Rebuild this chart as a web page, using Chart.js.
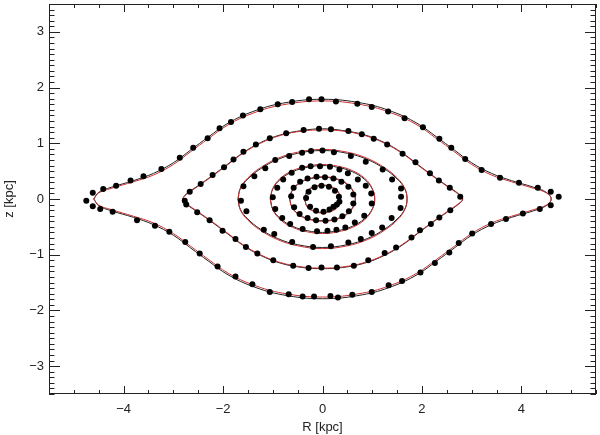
<!DOCTYPE html>
<html>
<head>
<meta charset="utf-8">
<script src="https://cdn.jsdelivr.net/npm/chart.js@4.4.1/dist/chart.umd.min.js"></script>
<style>
  html,body{margin:0;padding:0;background:#fff;}
  #wrap{width:600px;height:435px;}
</style>
</head>
<body>
<div id="wrap"><canvas id="orbits"></canvas></div>
<script>
'use strict';
// axis ticks
var xTickLabels=[-4,-2,0,2,4];
var yTickLabels=[-3,-2,-1,0,1,2,3];

// orbit 1 (outer eye)
var o1DotX=[-4.75,-4.62,-4.41,-4.15,-3.86,-3.60,-3.24,-2.87,-2.60,-2.31,-2.07,-1.84,-1.60,-1.25,-0.90,-0.61,-0.27,-0.02,0.27,0.70,0.99,1.32,1.65,2.02,2.35,2.59,2.87,3.20,3.57,3.95,4.33,4.59,4.75,4.59,4.37,4.03,3.69,3.39,3.01,2.74,2.55,2.26,1.97,1.60,1.33,0.99,0.60,0.31,0.16,-0.17,-0.40,-0.68,-1.06,-1.41,-1.75,-2.11,-2.47,-2.76,-3.08,-3.37,-3.73,-4.22,-4.47,-4.62];
var o1DotZ=[-0.03,0.11,0.18,0.24,0.33,0.41,0.54,0.74,0.92,1.09,1.27,1.38,1.50,1.61,1.70,1.74,1.79,1.79,1.75,1.71,1.65,1.57,1.45,1.29,1.08,0.92,0.72,0.52,0.38,0.29,0.20,0.13,0.04,-0.11,-0.18,-0.26,-0.36,-0.45,-0.62,-0.79,-0.96,-1.15,-1.32,-1.47,-1.55,-1.67,-1.72,-1.77,-1.74,-1.75,-1.75,-1.71,-1.67,-1.53,-1.39,-1.21,-0.98,-0.77,-0.59,-0.48,-0.38,-0.23,-0.18,-0.13];
var o1LineX=[-4.6,-4.5,-4.25,-3.8,-3.4,-3.0,-2.65,-2.3,-1.9,-1.4,-0.8,0,0.8,1.4,1.9,2.3,2.65,3.0,3.4,3.8,4.25,4.5,4.6,4.5,4.25,3.8,3.4,3.0,2.65,2.3,1.9,1.4,0.8,0,-0.8,-1.4,-1.9,-2.3,-2.65,-3.0,-3.4,-3.8,-4.25,-4.5,-4.6];
var o1BlackZ=[0,0.12,0.21,0.33,0.46,0.65,0.88,1.11,1.36,1.57,1.72,1.79,1.72,1.57,1.36,1.11,0.88,0.65,0.46,0.33,0.21,0.12,0,-0.12,-0.21,-0.33,-0.46,-0.65,-0.88,-1.11,-1.36,-1.57,-1.72,-1.79,-1.72,-1.57,-1.36,-1.11,-0.88,-0.65,-0.46,-0.33,-0.21,-0.12,0];
var o1RedZ=[0,0.11,0.19,0.31,0.43,0.62,0.85,1.08,1.33,1.54,1.69,1.76,1.69,1.54,1.33,1.08,0.85,0.62,0.43,0.31,0.19,0.11,0,-0.11,-0.19,-0.31,-0.43,-0.62,-0.85,-1.08,-1.33,-1.54,-1.69,-1.76,-1.69,-1.54,-1.33,-1.08,-0.85,-0.62,-0.43,-0.31,-0.19,-0.11,0];

// orbit 2
var o2DotX=[-2.77,-2.67,-2.45,-2.21,-1.98,-1.79,-1.59,-1.34,-1.06,-0.73,-0.38,-0.07,0.17,0.52,0.79,1.03,1.30,1.61,1.87,2.16,2.34,2.56,2.77,2.57,2.35,2.18,1.96,1.79,1.48,1.25,0.92,0.63,0.29,-0.02,-0.28,-0.59,-0.99,-1.31,-1.54,-1.75,-2.01,-2.27,-2.52,-2.74];
var o2DotZ=[-0.03,0.13,0.27,0.43,0.57,0.71,0.85,0.98,1.09,1.18,1.24,1.26,1.25,1.22,1.16,1.08,0.98,0.81,0.66,0.46,0.33,0.20,0.04,-0.20,-0.33,-0.45,-0.56,-0.69,-0.87,-0.97,-1.10,-1.20,-1.23,-1.23,-1.24,-1.20,-1.10,-0.98,-0.86,-0.72,-0.57,-0.38,-0.24,-0.10];
var o2LineX=[-2.82,-2.74,-2.5,-2.2,-1.9,-1.6,-1.25,-0.85,-0.4,0,0.4,0.85,1.25,1.6,1.9,2.2,2.5,2.74,2.82,2.74,2.5,2.2,1.9,1.6,1.25,0.85,0.4,0,-0.4,-0.85,-1.25,-1.6,-1.9,-2.2,-2.5,-2.74,-2.82];
var o2BlackZ=[0,0.09,0.24,0.43,0.63,0.83,1.01,1.15,1.23,1.26,1.23,1.15,1.01,0.83,0.63,0.43,0.24,0.09,0,-0.09,-0.24,-0.43,-0.63,-0.83,-1.01,-1.15,-1.23,-1.25,-1.23,-1.15,-1.01,-0.83,-0.63,-0.43,-0.24,-0.09,0];
var o2RedZ=[0,0.08,0.23,0.42,0.62,0.82,1.0,1.14,1.22,1.24,1.22,1.14,1.0,0.82,0.62,0.42,0.23,0.08,0,-0.08,-0.23,-0.42,-0.62,-0.82,-1.0,-1.14,-1.22,-1.24,-1.22,-1.14,-1.0,-0.82,-0.62,-0.42,-0.23,-0.08,0];

// orbit 3
var o3DotX=[-1.64,-1.59,-1.37,-1.15,-0.95,-0.67,-0.41,-0.23,0.0,0.23,0.57,0.87,1.21,1.40,1.58,1.58,1.57,1.39,1.20,0.99,0.77,0.52,0.17,-0.19,-0.61,-0.97,-1.18,-1.53];
var o3DotZ=[-0.03,0.23,0.41,0.55,0.70,0.77,0.83,0.86,0.87,0.84,0.77,0.67,0.53,0.35,0.19,0.04,-0.16,-0.34,-0.51,-0.61,-0.72,-0.78,-0.85,-0.86,-0.77,-0.63,-0.55,-0.22];
var o3LineX=[-1.7,-1.65,-1.5,-1.25,-0.9,-0.5,0,0.5,0.9,1.25,1.5,1.65,1.7,1.65,1.5,1.25,0.9,0.5,0,-0.5,-0.9,-1.25,-1.5,-1.65,-1.7];
var o3BlackZ=[0,0.19,0.36,0.54,0.71,0.82,0.87,0.82,0.71,0.54,0.36,0.19,0,-0.19,-0.36,-0.54,-0.71,-0.82,-0.87,-0.82,-0.71,-0.54,-0.36,-0.19,0];
var o3RedZ=[0,0.20,0.38,0.56,0.73,0.84,0.89,0.84,0.73,0.56,0.38,0.20,0,-0.20,-0.38,-0.56,-0.73,-0.84,-0.89,-0.84,-0.73,-0.56,-0.38,-0.20,0];

// orbit 4
var o4DotX=[-1.00,-0.91,-0.79,-0.62,-0.41,-0.24,-0.05,0.15,0.34,0.51,0.71,0.87,0.98,0.99,0.84,0.65,0.46,0.28,0.10,-0.11,-0.40,-0.65,-0.81,-0.95];
var o4DotZ=[0.03,0.20,0.35,0.47,0.56,0.59,0.59,0.58,0.53,0.46,0.35,0.24,0.10,-0.08,-0.30,-0.42,-0.51,-0.55,-0.57,-0.58,-0.54,-0.45,-0.34,-0.18];
var o4LineX=[-1.05,-1.0,-0.85,-0.6,-0.3,0,0.3,0.6,0.85,1.0,1.05,1.0,0.85,0.6,0.3,0,-0.3,-0.6,-0.85,-1.0,-1.05];
var o4BlackZ=[0,0.18,0.35,0.49,0.57,0.6,0.57,0.49,0.35,0.18,0,-0.18,-0.35,-0.49,-0.57,-0.6,-0.57,-0.49,-0.35,-0.18,0];
var o4RedZ=[0,0.19,0.37,0.51,0.59,0.62,0.59,0.51,0.37,0.19,0,-0.19,-0.37,-0.51,-0.59,-0.62,-0.59,-0.51,-0.37,-0.19,0];

// orbit 5
var o5DotX=[-0.63,-0.58,-0.45,-0.30,-0.12,0.05,0.22,0.38,0.52,0.62,0.62,0.53,0.40,0.24,0.06,-0.13,-0.30,-0.46,-0.57];
var o5DotZ=[0.05,0.20,0.31,0.37,0.40,0.39,0.37,0.31,0.22,0.08,-0.08,-0.22,-0.31,-0.37,-0.39,-0.38,-0.34,-0.27,-0.15];
var o5LineX=[-0.66,-0.62,-0.5,-0.3,0,0.3,0.5,0.62,0.66,0.62,0.5,0.3,0,-0.3,-0.5,-0.62,-0.66];
var o5BlackZ=[0,0.13,0.26,0.35,0.39,0.35,0.26,0.13,0,-0.13,-0.26,-0.35,-0.39,-0.35,-0.26,-0.13,0];
var o5RedZ=[0,0.14,0.27,0.36,0.40,0.36,0.27,0.14,0,-0.14,-0.27,-0.36,-0.40,-0.36,-0.27,-0.14,0];

// orbit 6 (innermost)
var o6DotX=[-0.33,-0.28,-0.16,-0.02,0.13,0.25,0.33,0.34,0.29,0.22,0.14,0.02,-0.13,-0.25];
var o6DotZ=[0.02,0.13,0.21,0.24,0.22,0.15,0.04,-0.05,-0.10,-0.14,-0.19,-0.23,-0.21,-0.14];
var o6LineX=[-0.36,-0.31,-0.18,0,0.18,0.31,0.36,0.31,0.18,0,-0.18,-0.31,-0.36];
var o6BlackZ=[0,0.13,0.21,0.24,0.21,0.13,0,-0.13,-0.21,-0.24,-0.21,-0.13,0];
var o6RedZ=[0,0.14,0.22,0.25,0.22,0.14,0,-0.14,-0.22,-0.25,-0.22,-0.14,0];

var pts=function(xs,zs){return xs.map(function(x,i){return {x:x,y:zs[i]};});};
var minus=function(v){return v<0?'\u2212'+Math.abs(v):String(v);};

var dots=[[o1DotX,o1DotZ],[o2DotX,o2DotZ],[o3DotX,o3DotZ],[o4DotX,o4DotZ],[o5DotX,o5DotZ],[o6DotX,o6DotZ]];
var lines=[[o1LineX,o1BlackZ,o1RedZ],[o2LineX,o2BlackZ,o2RedZ],[o3LineX,o3BlackZ,o3RedZ],[o4LineX,o4BlackZ,o4RedZ],[o5LineX,o5BlackZ,o5RedZ],[o6LineX,o6BlackZ,o6RedZ]];

var datasets=[];
dots.forEach(function(d){
  datasets.push({data:pts(d[0],d[1]),showLine:false,pointRadius:3,pointHoverRadius:3,pointBackgroundColor:'#000',pointBorderWidth:0});
});
lines.forEach(function(l){
  datasets.push({data:pts(l[0],l[2]),showLine:true,pointRadius:0,borderColor:'#c83030',borderWidth:1,tension:0.4,fill:false});
});
lines.forEach(function(l){
  datasets.push({data:pts(l[0],l[1]),showLine:true,pointRadius:0,borderColor:'#222',borderWidth:1,tension:0.4,fill:false});
});

// frame with inward ticks on all four sides
var frameTicks={
  id:'frameTicks',
  afterDraw:function(chart){
    var c=chart.ctx,a=chart.chartArea,xs=chart.scales.x,ys=chart.scales.y,v,p,len;
    c.save();
    c.strokeStyle='#222';c.lineWidth=1;
    c.strokeRect(a.left+0.5,a.top+0.5,a.right-a.left-1,a.bottom-a.top-1);
    c.beginPath();
    for(v=-5.5;v<=5.5001;v+=0.5){
      p=Math.round(xs.getPixelForValue(v))+0.5;
      len=(Math.abs(v%2)<1e-6)?8:4;
      c.moveTo(p,a.bottom);c.lineTo(p,a.bottom-len);
      c.moveTo(p,a.top);c.lineTo(p,a.top+len);
    }
    for(v=-35;v<=35;v++){
      p=Math.round(ys.getPixelForValue(v/10))+0.5;
      len=(v%10===0)?11:5.5;
      c.moveTo(a.left,p);c.lineTo(a.left+len,p);
      c.moveTo(a.right,p);c.lineTo(a.right-len,p);
    }
    c.stroke();
    c.restore();
  }
};

var font={family:'Liberation Sans, DejaVu Sans, sans-serif',size:13};
new Chart(document.getElementById('orbits'),{
  type:'scatter',
  data:{datasets:datasets},
  plugins:[frameTicks],
  options:{
    responsive:true,maintainAspectRatio:false,animation:false,
    layout:{padding:{top:4,right:4,left:0,bottom:0}},
    plugins:{legend:{display:false},tooltip:{enabled:false}},
    scales:{
      x:{
        type:'linear',min:-5.5,max:5.5,
        grid:{display:false,drawTicks:false},border:{display:false},
        afterBuildTicks:function(s){s.ticks=xTickLabels.map(function(v){return {value:v};});},
        afterFit:function(s){s.height=41;s.paddingLeft=0;s.paddingRight=0;},
        ticks:{font:font,color:'#222',padding:8,maxRotation:0,autoSkip:false,callback:function(v){return minus(v);}},
        title:{display:true,text:'R [kpc]',font:font,color:'#222',padding:{top:2,bottom:0}}
      },
      y:{
        type:'linear',min:-3.5,max:3.5,
        grid:{display:false,drawTicks:false},border:{display:false},
        afterBuildTicks:function(s){s.ticks=yTickLabels.map(function(v){return {value:v};});},
        afterFit:function(s){s.width=49;s.paddingTop=0;s.paddingBottom=0;},
        ticks:{font:font,color:'#222',padding:5,autoSkip:false,callback:function(v){return minus(v);}},
        title:{display:true,text:'z [kpc]',font:font,color:'#222',padding:{top:2,bottom:0}}
      }
    }
  }
});
</script>
</body>
</html>
